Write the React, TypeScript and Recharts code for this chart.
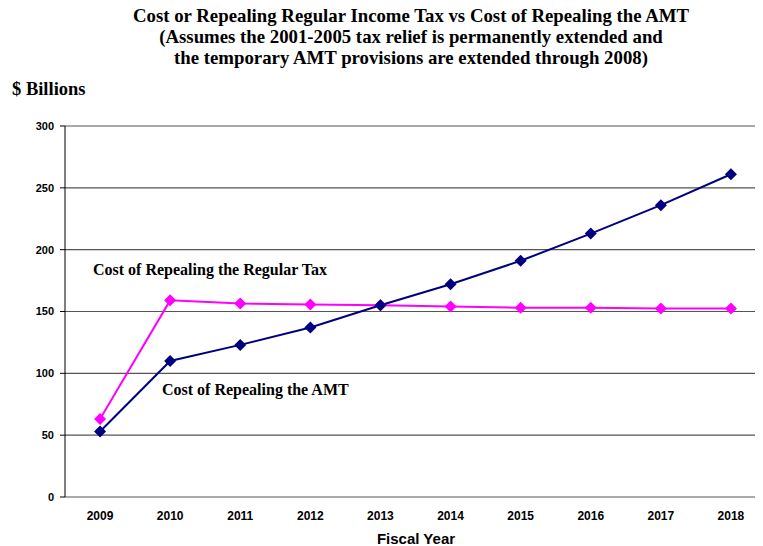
import React from "react";
import { LineChart, Line, XAxis, YAxis, CartesianGrid } from "recharts";

const years = ["2009", "2010", "2011", "2012", "2013", "2014", "2015", "2016", "2017", "2018"];
const regularTax = [63, 159, 156.5, 155.6, 155, 154, 153, 153, 152.5, 152.5];
const amt = [53, 110, 123, 137, 155, 172, 191, 213, 236, 261];
const yTicks = [0, 50, 100, 150, 200, 250, 300];

const titleLines = [
  "Cost or Repealing Regular Income Tax vs Cost of Repealing the AMT",
  "(Assumes the 2001-2005 tax relief is permanently extended and",
  "the temporary AMT provisions are extended through 2008)",
];
const yUnitLabel = "$ Billions";
const xAxisTitle = "Fiscal Year";
const regularLabel = "Cost of Repealing the Regular Tax";
const amtLabel = "Cost of Repealing the AMT";

const data = years.map((y, i) => ({
  year: y,
  pos: i + 0.5,
  regular: regularTax[i],
  amt: amt[i],
}));
const boundaryTicks = years.map((_, i) => i).concat([years.length]);
const centerTicks = years.map((_, i) => i + 0.5);

const serif = "'Liberation Serif', 'Times New Roman', serif";
const sans = "'Liberation Sans', Arial, sans-serif";

const diamond = (color: string, prefix: string) => (p: any) => (
  <path
    key={`${prefix}${p.index}`}
    d={`M${p.cx},${p.cy - 6}L${p.cx + 6},${p.cy}L${p.cx},${p.cy + 6}L${p.cx - 6},${p.cy}Z`}
    fill={color}
  />
);

export default function App() {
  return (
    <div style={{ position: "relative", width: 755, height: 538 }}>
      <div style={{ position: "absolute", left: 0, top: 0, width: 755, height: 538, overflow: "hidden" }}>
        <LineChart
          width={760}
          height={538}
          data={data}
          margin={{ top: 118, right: 2, left: 0, bottom: 0 }}
        >
          <CartesianGrid vertical={false} stroke="#555" strokeWidth={1.2} />
          <XAxis
            xAxisId="b"
            type="number"
            dataKey="pos"
            domain={[0, years.length]}
            ticks={boundaryTicks}
            tick={false}
            tickSize={5}
            height={0}
            stroke="#000"
            allowDataOverflow
          />
          <XAxis
            xAxisId="c"
            type="number"
            dataKey="pos"
            domain={[0, years.length]}
            ticks={centerTicks}
            tickFormatter={(v: number) => years[Math.floor(v)]}
            axisLine={false}
            tickLine={false}
            tickSize={5}
            tickMargin={9}
            height={49}
            interval={0}
            tick={{ fill: "#000", fontFamily: sans, fontWeight: "bold", fontSize: 12 }}
          />
          <YAxis
            domain={[0, 300]}
            ticks={yTicks}
            width={57}
            tickSize={5}
            tickMargin={6}
            stroke="#000"
            interval={0}
            tick={{ fill: "#000", fontFamily: sans, fontWeight: "bold", fontSize: 11 }}
          />
          <Line
            xAxisId="b"
            dataKey="regular"
            stroke="#FF00FF"
            strokeWidth={2}
            isAnimationActive={false}
            dot={diamond("#FF00FF", "r")}
          />
          <Line
            xAxisId="b"
            dataKey="amt"
            stroke="#000080"
            strokeWidth={2}
            isAnimationActive={false}
            dot={diamond("#000080", "a")}
          />
        </LineChart>
      </div>
      <div
        style={{
          position: "absolute",
          left: 403,
          top: -3.5,
          transform: "translateX(-50%)",
          fontFamily: serif,
          fontWeight: "bold",
          fontSize: 18.8,
          lineHeight: "21px",
          textAlign: "center",
          whiteSpace: "nowrap",
        }}
      >
        {titleLines.map((t) => (
          <div key={t}>{t}</div>
        ))}
      </div>
      <div
        style={{
          position: "absolute",
          left: 4,
          top: 71,
          fontFamily: serif,
          fontWeight: "bold",
          fontSize: 18.5,
          lineHeight: "20px",
          whiteSpace: "nowrap",
        }}
      >
        {yUnitLabel}
      </div>
      <div
        style={{
          position: "absolute",
          left: 85,
          top: 252,
          fontFamily: serif,
          fontWeight: "bold",
          fontSize: 16,
          lineHeight: "20px",
          whiteSpace: "nowrap",
        }}
      >
        {regularLabel}
      </div>
      <div
        style={{
          position: "absolute",
          left: 154,
          top: 372,
          fontFamily: serif,
          fontWeight: "bold",
          fontSize: 16,
          lineHeight: "20px",
          whiteSpace: "nowrap",
        }}
      >
        {amtLabel}
      </div>
      <div
        style={{
          position: "absolute",
          left: 408,
          top: 523,
          transform: "translateX(-50%)",
          fontFamily: sans,
          fontWeight: "bold",
          fontSize: 15,
          lineHeight: "16px",
          whiteSpace: "nowrap",
        }}
      >
        {xAxisTitle}
      </div>
    </div>
  );
}
